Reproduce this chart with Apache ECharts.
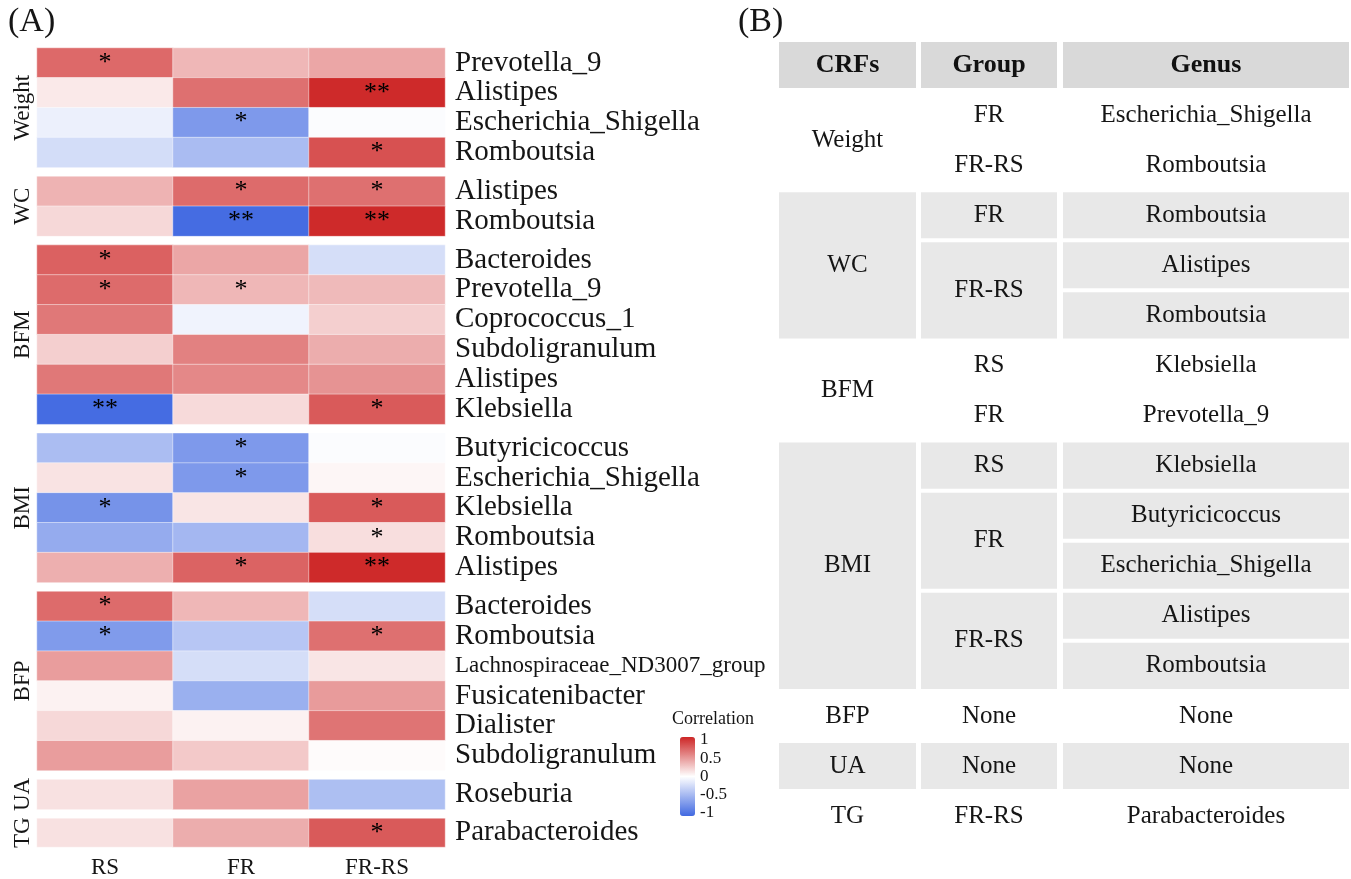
<!DOCTYPE html>
<html>
<head>
<meta charset="utf-8">
<title>CRFs and gut genus correlation</title>
<script src="https://cdn.jsdelivr.net/npm/echarts@6/dist/echarts.min.js"></script>
<style>
  html, body { margin: 0; padding: 0; background: #fff; }
  #chart { width: 1351px; height: 879px; }
</style>
</head>
<body>
<div id="chart"></div>
<script>
// heatmap columns
const columns = ['RS', 'FR', 'FR-RS'];
// risk factors, top to bottom
const groups = ['Weight', 'WC', 'BFM', 'BMI', 'BFP', 'UA', 'TG'];

// genus rows, correlation per column [RS, FR, FR-RS], significance marks
const weightGenus = ['Prevotella_9', 'Alistipes', 'Escherichia_Shigella', 'Romboutsia'];
const weightR = [[0.69, 0.33, 0.41], [0.10, 0.66, 0.98], [-0.10, -0.68, -0.02], [-0.23, -0.45, 0.80]];
const weightSig = [['*', '', ''], ['', '', '**'], ['', '*', ''], ['', '', '*']];

const wcGenus = ['Alistipes', 'Romboutsia'];
const wcR = [[0.35, 0.68, 0.66], [0.18, -0.98, 0.98]];
const wcSig = [['', '*', '*'], ['', '**', '**']];

const bfmGenus = ['Bacteroides', 'Prevotella_9', 'Coprococcus_1', 'Subdoligranulum', 'Alistipes', 'Klebsiella'];
const bfmR = [[0.73, 0.41, -0.22], [0.68, 0.33, 0.32], [0.62, -0.08, 0.22], [0.22, 0.58, 0.38], [0.62, 0.55, 0.50], [-0.98, 0.17, 0.76]];
const bfmSig = [['*', '', ''], ['*', '*', ''], ['', '', ''], ['', '', ''], ['', '', ''], ['**', '', '*']];

const bmiGenus = ['Butyricicoccus', 'Escherichia_Shigella', 'Klebsiella', 'Romboutsia', 'Alistipes'];
const bmiR = [[-0.44, -0.68, -0.02], [0.13, -0.68, 0.04], [-0.72, 0.12, 0.76], [-0.56, -0.48, 0.15], [0.37, 0.72, 0.98]];
const bmiSig = [['', '*', ''], ['', '*', ''], ['*', '', '*'], ['', '', '*'], ['', '*', '**']];

const bfpGenus = ['Bacteroides', 'Romboutsia', 'Lachnospiraceae_ND3007_group', 'Fusicatenibacter', 'Dialister', 'Subdoligranulum'];
const bfpR = [[0.68, 0.33, -0.22], [-0.67, -0.38, 0.66], [0.45, -0.22, 0.12], [0.06, -0.53, 0.46], [0.18, 0.06, 0.64], [0.45, 0.25, 0.02]];
const bfpSig = [['*', '', ''], ['*', '', '*'], ['', '', ''], ['', '', ''], ['', '', ''], ['', '', '']];

const uaGenus = ['Roseburia'];
const uaR = [[0.14, 0.43, -0.43]];
const uaSig = [['', '', '']];

const tgGenus = ['Parabacteroides'];
const tgR = [[0.14, 0.38, 0.76]];
const tgSig = [['', '', '*']];

// colour bar ticks
const legendTicks = [-1, -0.5, 0, 0.5, 1];

// table (B)
const tableHeader = ['CRFs', 'Group', 'Genus'];
const tableCRF = ['Weight', 'Weight', 'WC', 'WC', 'WC', 'BFM', 'BFM', 'BMI', 'BMI', 'BMI', 'BMI', 'BMI', 'BFP', 'UA', 'TG'];
const tableGroup = ['FR', 'FR-RS', 'FR', 'FR-RS', 'FR-RS', 'RS', 'FR', 'RS', 'FR', 'FR', 'FR-RS', 'FR-RS', 'None', 'None', 'FR-RS'];
const tableGenus = ['Escherichia_Shigella', 'Romboutsia', 'Romboutsia', 'Alistipes', 'Romboutsia', 'Klebsiella', 'Prevotella_9',
  'Klebsiella', 'Butyricicoccus', 'Escherichia_Shigella', 'Alistipes', 'Romboutsia', 'None', 'None', 'Parabacteroides'];

const genusByGroup = [weightGenus, wcGenus, bfmGenus, bmiGenus, bfpGenus, uaGenus, tgGenus];
const rByGroup = [weightR, wcR, bfmR, bmiR, bfpR, uaR, tgR];
const sigByGroup = [weightSig, wcSig, bfmSig, bmiSig, bfpSig, uaSig, tgSig];

const FONT = "'Liberation Serif', 'Times New Roman', serif";
const TXT = '#151515';

let grids = [], xAxes = [], yAxes = [], series = [];

// heatmap panels, one grid per risk factor
const rowH = 29.85, gap = 9;
let gridTop = 48;
groups.forEach((g, i) => {
    const genus = genusByGroup[i];
    grids.push({left: 37, top: gridTop, width: 408, height: genus.length * rowH});
    gridTop += genus.length * rowH + gap;

    xAxes.push({
        gridIndex: i, type: 'category', data: columns,
        show: i === groups.length - 1,
        axisLine: {show: false}, axisTick: {show: false}, splitLine: {show: false},
        axisLabel: {fontSize: 23, fontFamily: FONT, color: TXT, margin: 9}
    });
    yAxes.push({
        gridIndex: i, type: 'category', data: genus, inverse: true, position: 'right',
        axisLine: {show: false}, axisTick: {show: false}, splitLine: {show: false},
        axisLabel: {
            interval: 0, hideOverlap: false,
            fontSize: 29, fontFamily: FONT, color: TXT, margin: 10,
            formatter: v => v.length > 22 ? '{s|' + v + '}' : v,
            rich: {s: {fontSize: 23, fontFamily: FONT, color: TXT}}
        }
    });
    // left axis only carries the group name
    yAxes.push({
        gridIndex: i, type: 'value', position: 'left', min: 0, max: 1,
        name: g, nameLocation: 'middle', nameRotate: 90, nameGap: 3,
        nameTextStyle: {fontSize: 23, fontFamily: FONT, color: TXT},
        axisLine: {show: false}, axisTick: {show: false}, axisLabel: {show: false}, splitLine: {show: false}
    });

    const data = [];
    rByGroup[i].forEach((row, r) => row.forEach((v, c) => data.push([c, r, v])));
    const sig = sigByGroup[i];
    series.push({
        type: 'heatmap', xAxisIndex: i, yAxisIndex: 2 * i, data: data,
        itemStyle: {borderColor: 'rgba(255,255,255,0.45)', borderWidth: 1},
        label: {
            show: true, formatter: p => sig[p.data[1]][p.data[0]],
            fontSize: 26, fontFamily: FONT, color: '#000'
        },
        emphasis: {disabled: true}
    });
});

// colour bar axis
const lg = groups.length;
grids.push({left: 680, top: 740, width: 15, height: 73});
xAxes.push({gridIndex: lg, type: 'category', data: [''], show: false});
yAxes.push({
    gridIndex: lg, type: 'value', position: 'left', min: -1, max: 1, interval: 0.5,
    name: 'Correlation', nameLocation: 'end', nameGap: 12,
    nameTextStyle: {fontSize: 18, fontFamily: FONT, color: TXT, align: 'left', padding: [0, 0, 0, -8]},
    axisLine: {show: false}, splitLine: {show: false}, axisLabel: {show: false},
    axisTick: {show: true, inside: true, length: 3, lineStyle: {color: '#fff', width: 1.2}}
});
yAxes.push({
    gridIndex: lg, type: 'value', position: 'right', min: -1, max: 1, interval: 0.5,
    axisLine: {show: false}, splitLine: {show: false},
    axisTick: {show: true, inside: true, length: 3, lineStyle: {color: '#fff', width: 1.2}},
    axisLabel: {fontSize: 17, fontFamily: FONT, color: TXT, margin: 5,
        formatter: v => legendTicks.indexOf(v) >= 0 ? String(v) : ''}
});

// table (B) drawn with graphic elements
const tX = [779, 921, 1063], tW = [137, 136, 286];
const hTop = 42, hH = 46, pitch = 50.07;
const rowTop = i => hTop + (i + 1) * pitch;
const elements = [];

tableHeader.forEach((h, c) => {
    elements.push({type: 'rect', shape: {x: tX[c], y: hTop, width: tW[c], height: hH}, style: {fill: '#D9D9D9'}});
    elements.push({type: 'text', x: tX[c] + tW[c] / 2, y: hTop + hH / 2,
        style: {text: h, fontSize: 26, fontWeight: 'bold', fontFamily: FONT, fill: '#111', align: 'center', verticalAlign: 'middle'}});
});

function runs(keyFn) {
    const out = [];
    tableCRF.forEach((_, i) => {
        const k = keyFn(i);
        if (out.length && out[out.length - 1].key === k) out[out.length - 1].end = i;
        else out.push({key: k, start: i, end: i});
    });
    return out;
}
const crfRuns = runs(i => tableCRF[i]);
const shaded = [];
crfRuns.forEach((r, k) => { for (let i = r.start; i <= r.end; i++) shaded[i] = k % 2 === 1; });

const colRuns = [
    crfRuns.map(r => Object.assign({text: tableCRF[r.start]}, r)),
    runs(i => tableCRF[i] + '|' + tableGroup[i]).map(r => Object.assign({text: tableGroup[r.start]}, r)),
    tableGenus.map((g, i) => ({text: g, start: i, end: i}))
];
colRuns.forEach((list, c) => list.forEach(r => {
    const y0 = rowTop(r.start), h = (r.end - r.start + 1) * pitch - 4;
    if (shaded[r.start]) {
        elements.push({type: 'rect', shape: {x: tX[c], y: y0, width: tW[c], height: h}, style: {fill: '#E8E8E8'}});
    }
    elements.push({type: 'text', x: tX[c] + tW[c] / 2, y: y0 + h / 2,
        style: {text: r.text, fontSize: 25, fontFamily: FONT, fill: TXT, align: 'center', verticalAlign: 'middle'}});
}));

const chart = echarts.init(document.getElementById('chart'));
chart.setOption({
    animation: false,
    backgroundColor: '#fff',
    title: [
        {text: '(A)', left: 3, top: 0, textStyle: {fontSize: 34, fontWeight: 'normal', fontFamily: FONT, color: TXT}},
        {text: '(B)', left: 733, top: 0, textStyle: {fontSize: 34, fontWeight: 'normal', fontFamily: FONT, color: TXT}}
    ],
    grid: grids,
    xAxis: xAxes,
    yAxis: yAxes,
    visualMap: {
        type: 'continuous', min: -1, max: 1, dimension: 2,
        seriesIndex: series.map((s, i) => i),
        calculable: false, orient: 'vertical',
        left: 680, top: 737, itemWidth: 15, itemHeight: 79, padding: 0,
        inRange: {color: ['#4169E1', '#FFFFFF', '#CD2626']}
    },
    graphic: {elements: elements},
    series: series
});
</script>
</body>
</html>
